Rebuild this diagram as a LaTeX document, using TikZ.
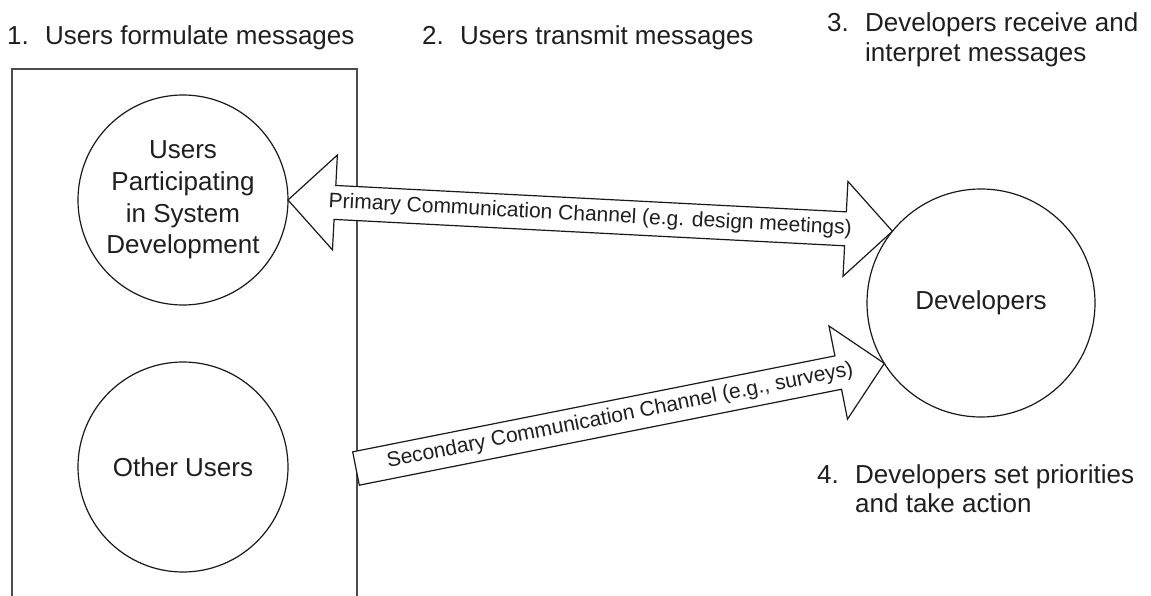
\documentclass[tikz,border=0pt]{standalone}
\usepackage{fontspec}
\setmainfont{Liberation Sans}
\usetikzlibrary{calc}

\tikzset{
  lbl/.style={inner sep=0pt, anchor=base west, text=black!88,
    font=\fontsize{26}{29.5}\selectfont},
  party/.style={circle, draw=black!90, line width=1.2pt, inner sep=0pt,
    outer sep=0pt, align=center, text=black!88,
    font=\fontsize{26}{31.7}\selectfont},
  blockarrow/.style={draw=black!90, line width=1.2pt, fill=white,
    line join=miter},
  chanlabel/.style={inner sep=0pt, sloped, text=black!88,
    font=\fontsize{21}{24}\selectfont},
  userbox/.style={draw=black!70, line width=1.6pt},
}
\newcommand\stepno[1]{\makebox[38pt][l]{#1}}

\begin{document}
\begin{tikzpicture}[x=1pt, y=-1pt]
\path[use as bounding box] (0,0) rectangle (1151,596);
\clip (0,0) rectangle (1151,596);
\fill[white] (0,0) rectangle (1151,596);

% the user community (box runs off the bottom edge)
\draw[userbox] (12,69) rectangle (357,640);

% parties
\node[party, minimum size=210pt] (users) at (183,200)
  {Users\\Participating\\in System\\Development};
\node[party, minimum size=210pt] (others) at (183,467) {Other Users};
\node[party, minimum size=228pt] (dev) at (981,303) {Developers};

% arrow geometry: head length, half head width, half shaft width
\def\hl{47pt}\def\hw{47.5pt}\def\sw{17pt}

% primary channel: double block arrow
\coordinate (pA) at (users.east);
\coordinate (pB) at (dev.141.8);
\draw[blockarrow] (pA)
  -- ($(pA)!\hl!(pB)!\hw!90:(pB)$)
  -- ($(pA)!\hl!(pB)!\sw!90:(pB)$)
  -- ($(pB)!\hl!(pA)!\sw!90:(pB)$)
  -- ($(pB)!\hl!(pA)!\hw!90:(pB)$)
  -- (pB)
  -- ($(pB)!\hl!(pA)!\hw!-90:(pB)$)
  -- ($(pB)!\hl!(pA)!\sw!-90:(pB)$)
  -- ($(pA)!\hl!(pB)!\sw!-90:(pB)$)
  -- ($(pA)!\hl!(pB)!\hw!-90:(pB)$)
  -- cycle;
\path (pA) -- (pB) node[chanlabel, midway]
  {Primary Communication Channel (e.g. design meetings)};

% secondary channel: single block arrow from the box edge
\coordinate (sT) at (356,468.5);
\coordinate (sB) at (dev.212.9);
\draw[blockarrow] ($(sT)!\sw!90:(sB)$)
  -- ($(sB)!\hl!(sT)!\sw!90:(sB)$)
  -- ($(sB)!\hl!(sT)!\hw!90:(sB)$)
  -- (sB)
  -- ($(sB)!\hl!(sT)!\hw!-90:(sB)$)
  -- ($(sB)!\hl!(sT)!\sw!-90:(sB)$)
  -- ($(sT)!\sw!-90:(sB)$)
  -- cycle;
\path (sT) -- (sB) node[chanlabel, midway]
  {Secondary Communication Channel (e.g., surveys)};

% process steps
\node[lbl] (s1) at (7,45) {\stepno{1.}Users formulate messages};
\node[lbl] (s2) at (422,45) {\stepno{2.}Users transmit messages};
\node[lbl] (s3) at (827,32) {\begin{tabular}[t]{@{}l@{}l@{}}
  \stepno{3.} & Developers receive and\\ & interpret messages\end{tabular}};
\node[lbl] (s4) at (817,483) {\begin{tabular}[t]{@{}l@{}l@{}}
  \stepno{4.} & Developers set priorities\\ & and take action\end{tabular}};
\end{tikzpicture}
\end{document}
